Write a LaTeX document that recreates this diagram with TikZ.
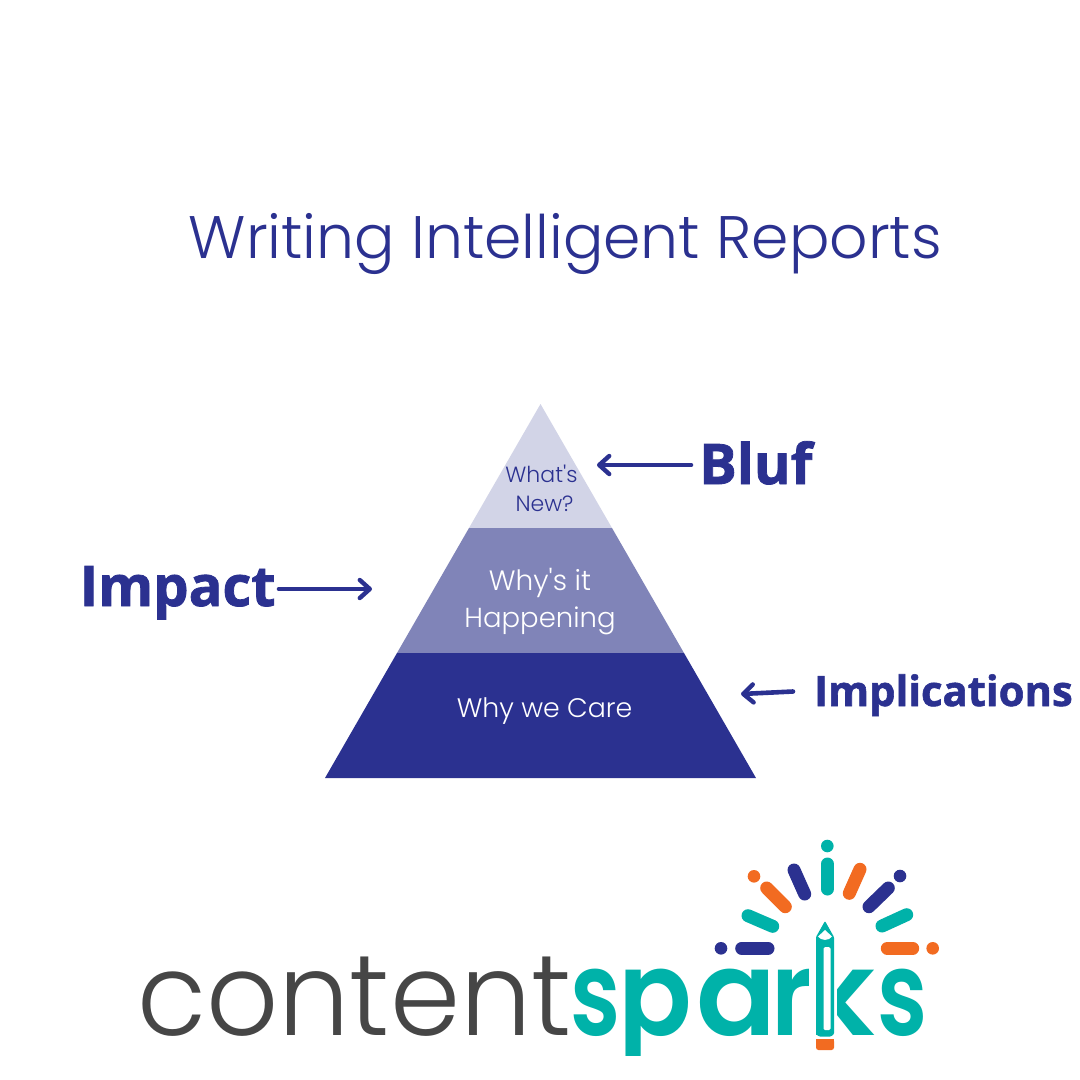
\documentclass[tikz,border=0pt]{standalone}
\usepackage{fontspec}
\setmainfont{Poppins}
\newfontfamily\mont{Poppins Light}
\newfontfamily\heavy{Open Sans}[UprightFont=* Bold,FakeBold=1.4]
\newfontfamily\logoL{Poppins Light}[FakeStretch=0.98]
\newfontfamily\logoB{Poppins SemiBold}
\newfontfamily\logoS{Poppins SemiBold}[FakeStretch=0.78]
\newfontfamily\logoP{Poppins SemiBold}[FakeStretch=0.92]
\newfontfamily\logoR{Poppins SemiBold}[FakeStretch=0.85]
\definecolor{navy}{HTML}{2B3190}
\definecolor{midb}{HTML}{8084B8}
\definecolor{lightb}{HTML}{D2D4E7}
\definecolor{teal2}{HTML}{00B2A9}
\definecolor{orange2}{HTML}{F26B21}
\definecolor{gray2}{HTML}{464646}
\usetikzlibrary{arrows.meta}
\tikzset{
 x=1pt,y=-1pt,
 lab/.style={anchor=base,inner sep=0pt,align=center,font=\mont},
 big/.style={anchor=base west,inner sep=0pt,text=navy,font=\heavy},
 conn/.style={draw=navy,line width=4.6pt,line cap=round,line join=round,-{Straight Barb[length=10pt,width=18pt,line width=4.4pt,round]}},
 ray/.style={line width=13pt,line cap=round},
 dotp/.style={circle,minimum size=12.6pt,inner sep=0pt},
 logo/.style={anchor=base west,inner sep=0pt},
}
\begin{document}
\begin{tikzpicture}
\useasboundingbox (0,0) rectangle (1080,1080);
\fill[white] (0,0) rectangle (1080,1080);
\node[anchor=base west,inner sep=0pt,text=navy,font=\mont\fontsize{60}{72}\selectfont] (title) at (188.5,258) {Writing Intelligent Reports};
% pyramid
\fill[lightb] (540.5,404) -- (612,528) -- (469,528) -- cycle;
\fill[midb] (469,528) -- (612,528) -- (684,653) -- (397,653) -- cycle;
\fill[navy] (397,653) -- (684,653) -- (756,778) -- (325,778) -- cycle;
\node[lab,text=navy,font=\mont\fontsize{22}{28}\selectfont] (t1a) at (541.5,482) {What's};
\node[lab,text=navy,font=\mont\fontsize{22}{28}\selectfont] (t1b) at (544.5,511) {New?};
\node[lab,text=white,font=\mont\fontsize{28}{30}\selectfont] (t2a) at (540,590) {Why's it};
\node[lab,text=white,font=\mont\fontsize{27.5}{30}\selectfont] (t2b) at (540,627) {Happening};
\node[lab,text=white,font=\mont\fontsize{26.8}{30}\selectfont] (t3) at (544.5,717) {Why we Care};
% labels
\node[big,font=\heavy\fontsize{56}{60}\selectfont] (bluf) at (699,484) {Bluf};
\node[big,font=\heavy\fontsize{56}{60}\selectfont] (impact) at (79.5,606) {Impact};
\node[big,font=\heavy\fontsize{41.8}{44}\selectfont] (impl) at (814,706) {Implications};
\coordinate (blufS) at (691,465);
\coordinate (blufE) at (597,465);
\coordinate (impS) at (279,589);
\coordinate (impE) at (372,589);
\coordinate (implS) at (793,691.5);
\coordinate (implE) at (741,694);
\draw[conn] (blufS) -- (blufE);
\draw[conn] (impS) -- (impE);
\draw[conn] (implS) -- (implE);
% logo
\node[logo,text=gray2,font=\logoL\fontsize{115}{120}\selectfont] (content) at (137,1035) {content};
\node[logo,text=teal2,font=\fontsize{118}{120}\selectfont] (spar) at (570,1035) {\makebox[48pt][l]{\logoS s}\makebox[78pt][l]{\logoP p}\makebox[75pt][l]{\logoB a}{\logoR r}};
\fill[white] (620,1056) rectangle (650,1072);
\node[logo,text=teal2,font=\logoB\fontsize{118}{120}\selectfont] (kk) at (806,1035) {k};
\node[logo,text=teal2,font=\logoS\fontsize{118}{120}\selectfont] (ss) at (877,1035) {s};
% pencil
\fill[white] (811,915) rectangle (816,1040);
\fill[white] (834,915) rectangle (837,1040);
\fill[teal2,rounded corners=1pt] (825,921) -- (834,937) -- (834,1034) -- (831,1036.5) -- (819,1036.5) -- (816,1034) -- (816,937) -- cycle;
\fill[white,rounded corners=1.5pt] (823.5,947) rectangle (830.5,1030);
\fill[white] (825,930) -- (832,936.5) .. controls (829,941) and (821,941) .. (818,936.5) -- cycle;
\fill[orange2,rounded corners=2.5pt] (816,1039) -- (834,1039) -- (834,1050) -- (816,1050) -- cycle;
\fill[orange2] (816,1039) rectangle (834,1044);
% rays
\draw[ray,teal2] (827.3,864) -- (827.3,889);
\draw[ray,navy] (794,870) -- (804.7,894);
\draw[ray,orange2] (860,869.3) -- (849.3,893.3);
\draw[ray,orange2] (766.7,888) -- (785.3,906.7);
\draw[ray,navy] (888.3,888) -- (869,906.7);
\draw[ray,teal2] (748,915.7) -- (772.7,926.3);
\draw[ray,teal2] (906.7,914.7) -- (882,926);
\draw[ray,navy] (741.7,948.3) -- (768,948.3);
\draw[ray,orange2] (887.3,948.3) -- (912.7,948.3);
\node[dotp,fill=teal2] (d1) at (827.3,846) {};
\node[dotp,fill=orange2] (d2) at (754,876.3) {};
\node[dotp,fill=navy] (d3) at (900,876) {};
\node[dotp,fill=navy] (d4) at (721,948.3) {};
\node[dotp,fill=orange2] (d5) at (932.7,948.3) {};
\end{tikzpicture}
\end{document}
